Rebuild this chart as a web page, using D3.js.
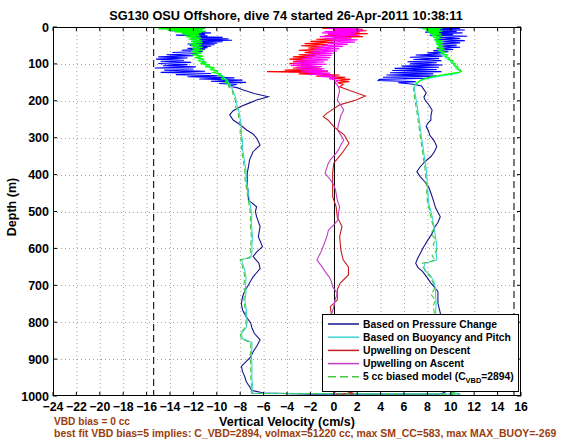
<!DOCTYPE html>
<html><head><meta charset="utf-8">
<script src="https://cdn.jsdelivr.net/npm/d3@7"></script>
<style>
body{margin:0;background:#fff}
svg{display:block;font-family:"Liberation Sans",Arial,Helvetica,sans-serif;font-weight:bold}
</style>
</head><body>
<svg id="c" width="561" height="442"></svg>
<script>
// ---------------- DATA ----------------
const titleText = "SG130 OSU Offshore, dive 74 started 26-Apr-2011 10:38:11";
const xLabel = "Vertical Velocity (cm/s)";
const yLabel = "Depth (m)";
const noteLines = ["VBD bias = 0 cc",
  "best fit VBD bias=5 implies: C_VBD=2894, volmax=51220 cc, max SM_CC=583, max MAX_BUOY=-269"];
const xTicks = d3.range(-24, 17, 2);
const yTicks = d3.range(0, 1001, 100);
const limitLines = [-15.4, 15.4];
const legendLabels = ["Based on Pressure Change", "Based on Buoyancy and Pitch",
  "Upwelling on Descent", "Upwelling on Ascent", "5 cc biased model (C"];

// [depth m, velocity cm/s]
const pressureDescent = [[0,-12],[2,-14.5],[4,-11],[6,-13.8],[8,-11.5],[10,-14],[12,-11],[14,-13],[16,-10.5],[18,-12.8],[20,-11],[22,-13.5],[24,-10.8],[26,-12],[28,-9.5],[30,-12.2],[32,-9],[34,-11.5],[36,-8.7],[38,-11.8],[40,-9.5],[42,-12],[44,-10],[46,-12.5],[48,-10.2],[50,-12.3],[52,-10.5],[54,-12],[56,-10.8],[58,-12.5],[60,-11],[63,-13],[66,-11.2],[69,-13.8],[72,-11.5],[75,-14.3],[78,-12],[81,-15],[84,-12.5],[87,-15.2],[90,-12.8],[93,-14.8],[96,-12.2],[99,-15],[102,-12.5],[105,-14.6],[108,-11.8],[111,-15.3],[114,-12],[117,-14.5],[120,-11],[123,-14.8],[126,-10.5],[129,-13.5],[132,-9.5],[135,-12.5],[138,-8.5],[141,-11.5],[144,-7.8],[147,-10.5],[150,-7.5],[153,-9.8],[156,-8.3],[160,-9.0],[165,-8.2],[170,-7.8],[180,-6.8],[189,-5.6],[198,-6.6],[207,-7.3],[216,-8.0],[227,-8.6],[238,-8.9],[252,-8.6],[265,-8.0],[279,-7.45],[290,-6.9],[301,-6.6],[320,-6.3],[338,-6.9],[360,-7.2],[380,-7.3],[396,-7.4],[427,-7.4],[450,-7.3],[469,-7.3],[487,-6.6],[500,-6.7],[514,-6.6],[541,-6.3],[568,-6.45],[595,-6.1],[610,-6.6],[622,-6.9],[640,-6.4],[655,-6.3],[677,-6.9],[699,-7.3],[715,-7.6],[731,-7.8],[750,-7.9],[767,-7.8],[785,-7.5],[802,-7.1],[815,-7.0],[830,-6.8],[848,-6.3],[866,-6.6],[880,-6.9],[894,-7.1],[907,-7.5],[920,-7.9],[934,-7.8],[948,-7.6],[960,-7.5],[975,-7.2],[985,-7.0],[992,-6.0],[995,-2]];
const pressureAscent = [[0,9.5],[2,7.2],[4,10.8],[6,8],[8,11.2],[10,8.5],[12,10.5],[14,7.8],[16,11],[18,8.8],[20,10.2],[22,8.2],[25,11.4],[28,9],[31,10.8],[34,8.6],[37,11.2],[40,9.2],[43,10.8],[46,8.8],[49,10.5],[52,9],[55,10.8],[58,8.8],[61,10.2],[64,8.5],[67,9.8],[70,8],[73,9.2],[76,7],[79,9.3],[82,6.5],[85,9],[88,6.8],[91,9.2],[94,6.3],[97,8.8],[100,6.5],[103,9.3],[106,5.8],[109,9],[112,5.2],[115,8.8],[118,5],[121,9.2],[124,4.8],[127,8.5],[130,4.5],[133,8.8],[136,4.2],[139,8.2],[142,3.9],[145,3.8],[148,7],[151,5.5],[155,6.8],[160,7.5],[165,7.6],[179,7.9],[190,7.7],[198,7.8],[210,8.1],[225,8.4],[240,8.3],[252,8.3],[262,8.0],[270,7.9],[282,8.1],[293,8.2],[310,8.6],[324,8.8],[338,8.6],[351,8.3],[365,7.8],[378,7.4],[392,7.1],[406,7.4],[420,7.8],[433,8.1],[450,8.3],[469,8.5],[490,8.7],[514,9.1],[530,8.9],[541,8.65],[560,8.4],[577,8.05],[595,7.7],[613,7.4],[628,7.15],[640,7.0],[652,7.2],[663,7.6],[680,8.0],[694,8.3],[705,8.6],[717,8.9],[735,8.9],[748,8.9],[762,9.0],[775,9.1],[800,9.2],[830,9.3],[860,9.2],[890,9.4],[920,9.5],[950,9.4],[975,9.6],[990,9.5],[995,9]];

const buoyDescent = [[0,-13],[3,-12],[6,-13.5],[9,-11.8],[12,-13],[15,-11.8],[18,-12.6],[22,-11.7],[26,-12.3],[30,-11.6],[35,-12.1],[40,-11.6],[45,-12],[50,-11.6],[55,-11.9],[60,-11.5],[65,-11.9],[70,-11.4],[75,-11.8],[80,-11.3],[85,-11.6],[90,-11.1],[95,-11.3],[100,-10.9],[105,-10.9],[110,-10.4],[115,-10.4],[120,-10.0],[125,-9.9],[130,-9.6],[135,-9.5],[140,-9.3],[145,-9.1],[150,-9.0],[160,-8.8],[175,-8.6],[190,-8.4],[210,-8.3],[230,-8.1],[250,-8.0],[270,-7.9],[290,-7.9],[310,-7.8],[330,-7.8],[350,-7.7],[370,-7.6],[390,-7.5],[410,-7.5],[430,-7.4],[450,-7.3],[470,-7.2],[490,-7.1],[510,-7.0],[530,-7.05],[550,-7.0],[570,-6.95],[590,-7.0],[610,-7.0],[625,-7.1],[631,-7.9],[640,-7.8],[660,-7.6],[680,-7.5],[700,-7.55],[720,-7.5],[740,-7.6],[760,-7.5],[780,-7.45],[800,-7.4],[815,-7.5],[830,-7.9],[845,-7.8],[855,-7.0],[870,-7.0],[890,-7.05],[910,-7.0],[930,-7.0],[950,-7.0],[970,-6.95],[985,-7.0],[993,-6.9]];
const buoyAscent = [[0,8.5],[5,7.8],[10,9],[15,8.2],[20,8.8],[25,8.4],[30,9],[35,8.6],[40,9.2],[45,8.8],[50,9.2],[55,8.9],[60,9.3],[65,9],[70,9.4],[75,9.3],[80,9.6],[85,9.6],[90,9.9],[95,10],[100,10.2],[105,10.3],[110,10.4],[115,10.6],[120,10.8],[124,10.7],[128,10.2],[132,9.4],[136,8.6],[140,7.9],[145,7.4],[150,7.2],[155,7.0],[162,6.9],[170,6.9],[190,7.0],[210,7.1],[230,7.2],[252,7.3],[275,7.4],[300,7.5],[320,7.6],[343,7.7],[365,7.8],[384,7.9],[405,7.95],[427,8.0],[450,8.05],[476,8.1],[500,8.3],[514,8.4],[530,8.5],[550,8.6],[570,8.7],[590,8.8],[610,8.75],[631,8.8],[640,7.8],[650,7.7],[660,7.8],[675,8.3],[694,8.6],[710,8.7],[730,8.7],[750,8.75],[775,8.7],[800,8.8],[830,8.9],[860,9.0],[890,9.1],[920,9.2],[950,9.3],[975,9.4],[990,10],[995,10.8]];

const upDescent = [[0,16],[0.3,-3.5],[2,1],[4,-1],[6,2.5],[8,0],[10,2.8],[12,0.5],[14,2.2],[16,-0.5],[18,2.9],[20,0.3],[22,2],[24,-0.8],[26,2.5],[28,0],[30,1.5],[33,-1.5],[36,0.8],[39,-2],[42,0],[45,-2.5],[48,-0.5],[51,-2.8],[54,-0.8],[57,-2.2],[60,-1],[63,-3],[66,-1.2],[69,-2.5],[72,-1],[75,-3],[78,-1.5],[81,-3.5],[84,-1.8],[87,-3.8],[90,-2],[93,-3.5],[96,-1.5],[99,-3.8],[102,-1.8],[105,-3.2],[108,-1.2],[111,-3.5],[114,-1],[117,-4.2],[120,-0.5],[121,-5.7],[124,-1],[127,-3],[130,0.5],[133,-1.5],[136,1],[139,0],[142,1.4],[145,0.2],[148,1.3],[151,0.3],[155,0.8],[162,0.5],[175,1.6],[187,2.7],[198,1.9],[211,0.5],[234,-0.6],[243,-0.9],[252,-0.5],[270,0],[293,0.9],[315,1.3],[342,0.7],[369,0],[396,-0.1],[433,-0.1],[460,-0.1],[487,0.2],[515,0.3],[541,0.7],[568,0.5],[604,0.6],[631,0.8],[650,1.25],[672,1.25],[694,0.55],[712,0.3],[740,0.3],[758,-0.3],[780,-0.2],[810,0.1],[840,0.3],[870,0.2],[900,0.4],[930,0.3],[960,0.5],[985,0.8],[993,1.7],[995,0.2]];
const upAscent = [[0,0.5],[2,2],[4,-0.5],[6,2.3],[8,0],[10,2.5],[12,-0.8],[14,2],[16,-1],[18,1.8],[20,-0.5],[23,2.2],[26,-1.2],[29,1.5],[32,-0.8],[35,2],[38,-0.3],[41,1.8],[44,-0.5],[47,1.2],[50,-1],[53,0.8],[56,-1.5],[59,0.5],[62,-1.8],[65,0.3],[68,-2],[71,0],[74,-2.2],[77,-0.2],[80,-2.5],[83,-0.3],[86,-2.8],[89,-0.5],[92,-3.2],[95,-0.8],[98,-3.5],[101,-0.6],[104,-3.7],[107,-1],[110,-3.2],[113,-0.8],[116,-3],[119,-0.5],[122,-2.8],[125,-0.3],[128,-2.2],[131,0],[134,-1.2],[137,0.3],[140,-0.4],[145,0.4],[150,0.1],[162,0.4],[172,0.5],[185,0.4],[198,0.3],[212,0.6],[225,0.85],[240,0.6],[252,0.5],[265,0.4],[279,0.3],[293,0.6],[306,0.85],[320,0.6],[333,0.4],[346,0.1],[360,-0.3],[372,-0.5],[382,-0.6],[396,-0.75],[414,-0.3],[428,0],[442,0.15],[469,0.3],[487,0.5],[505,0.4],[523,0.35],[536,0],[550,-0.45],[568,-0.6],[586,-0.8],[610,-1.1],[631,-1.45],[650,-1.0],[665,-0.7],[677,-0.4],[690,-0.2],[704,-0.1],[722,0.3],[740,0.1],[758,0],[780,-0.2],[810,0],[840,0.2],[870,0],[900,-0.1],[930,0.1],[960,0],[985,0.2],[995,0]];

const modelDescent = [[0,-24],[1,-15.5],[3,-11],[5,-15],[7,-11.2],[9,-14.2],[11,-10.9],[13,-13.6],[15,-11.3],[17,-13],[19,-11.5],[21,-12.8],[24,-11.4],[27,-12.6],[30,-11.3],[33,-12.4],[36,-11.3],[39,-12.2],[42,-11.2],[45,-12.3],[48,-11.3],[51,-12.2],[55,-11.2],[59,-12.1],[63,-11.2],[67,-12.2],[71,-11.3],[75,-12.1],[79,-11.2],[83,-11.9],[87,-11.1],[91,-11.6],[95,-10.9],[99,-11.4],[103,-10.6],[107,-11],[111,-10.2],[115,-10.6],[119,-9.9],[123,-10.3],[127,-9.7],[131,-9.9],[135,-9.4],[140,-9.6],[145,-9.1],[150,-9.3],[155,-8.9],[162,-9.0],[170,-8.7],[185,-8.6],[200,-8.4],[215,-8.4],[230,-8.2],[250,-8.1],[270,-8.0],[290,-8.0],[310,-7.9],[330,-7.9],[350,-7.8],[370,-7.7],[390,-7.6],[410,-7.6],[430,-7.5],[450,-7.4],[470,-7.3],[490,-7.2],[510,-7.1],[530,-7.15],[550,-7.1],[570,-7.05],[590,-7.1],[610,-7.1],[625,-7.2],[631,-8.0],[640,-7.9],[660,-7.7],[680,-7.6],[700,-7.7],[720,-7.6],[740,-7.7],[760,-7.6],[780,-7.55],[800,-7.5],[815,-7.6],[830,-8.0],[845,-7.9],[855,-7.1],[870,-7.1],[890,-7.15],[910,-7.1],[930,-7.1],[950,-7.1],[970,-7.05],[985,-7.1],[993,-7.0]];
const modelAscent = [[0,8],[1,7.4],[3,9.3],[5,7.6],[7,9.1],[9,7.9],[11,9.3],[13,8],[15,9],[17,8.2],[19,9.2],[22,8.4],[25,9.3],[28,8.5],[31,9.2],[34,8.6],[37,9.3],[40,8.7],[44,9.3],[48,8.8],[52,9.3],[56,8.9],[60,9.4],[64,9],[68,9.5],[72,9.2],[76,9.7],[80,9.5],[84,9.9],[88,9.8],[92,10.2],[96,10.1],[100,10.4],[104,10.3],[108,10.6],[112,10.5],[116,10.8],[120,10.9],[123,10.7],[126,10.1],[130,9.3],[134,8.6],[138,8.0],[142,7.6],[147,7.3],[152,7.1],[158,6.9],[170,6.8],[190,6.9],[210,7.0],[230,7.1],[252,7.2],[275,7.3],[300,7.4],[320,7.5],[343,7.6],[365,7.7],[384,7.8],[405,7.85],[427,7.9],[450,7.95],[476,8.0],[500,8.2],[514,8.3],[530,8.4],[545,8.6],[560,8.3],[575,8.7],[590,8.5],[605,8.8],[620,8.4],[632,8.7],[640,7.6],[650,7.6],[662,7.9],[675,8.2],[694,8.5],[710,8.6],[725,8.3],[740,8.7],[755,8.5],[775,8.6],[800,8.7],[830,8.8],[860,8.9],[890,9.0],[920,9.1],[950,9.2],[975,9.3],[990,10],[995,10.8]];

// ---------------- CHART ----------------
const svg = d3.select("#c");
const x = d3.scaleLinear().domain([-24, 16]).range([53, 521]);
const y = d3.scaleLinear().domain([0, 1000]).range([27, 396]);
const defs = svg.append("defs");
defs.append("clipPath").attr("id","plotclip").append("rect")
  .attr("x", x(-24)).attr("y", y(0)).attr("width", x(16)-x(-24)).attr("height", y(1000)-y(0));

// scale a text's font so its width matches the reference layout
function fit(sel, target){
  const w = sel.node().getComputedTextLength();
  if (w > 0) sel.attr("font-size", (+sel.attr("font-size")) * target / w);
  return +sel.attr("font-size");
}

const colors = {
  pressure:["#0000ff","#14148c"], buoy:["#33e0e0","#3fd4d4"],
  upD:["#ff0000","#c41e1e"], upA:["#ff00ff","#c43cc8"], model:["#00ff00","#40c840"]
};
function grad(id, c){
  const g = defs.append("linearGradient").attr("id", id).attr("gradientUnits","userSpaceOnUse")
    .attr("x1",0).attr("x2",0).attr("y1", y(0)).attr("y2", y(1000));
  g.append("stop").attr("offset", 0.155).attr("stop-color", c[0]);
  g.append("stop").attr("offset", 0.17).attr("stop-color", c[1]);
}
grad("gP", colors.pressure); grad("gB", colors.buoy); grad("gR", colors.upD); grad("gM", colors.upA);

// grid
const grid = svg.append("g").attr("stroke","#8a8a8a").attr("stroke-width",0.8).attr("stroke-dasharray","1,3");
grid.selectAll(".vx").data(xTicks.slice(1,-1)).join("line")
  .attr("x1", d=>x(d)+0.5).attr("x2", d=>x(d)+0.5).attr("y1", y(0)).attr("y2", y(1000));
grid.selectAll(".hy").data(yTicks.slice(1,-1)).join("line")
  .attr("y1", d=>Math.round(y(d))+0.5).attr("y2", d=>Math.round(y(d))+0.5).attr("x1", x(-24)).attr("x2", x(16));

// reference lines
svg.append("line").attr("x1", Math.round(x(0))+0.5).attr("x2", Math.round(x(0))+0.5)
  .attr("y1", y(0)).attr("y2", y(1000)).attr("stroke","#000").attr("stroke-width",1);
svg.selectAll(".lim").data(limitLines).join("line")
  .attr("x1", d=>x(d)).attr("x2", d=>x(d)).attr("y1", y(0)).attr("y2", y(1000))
  .attr("stroke","#222").attr("stroke-width",1.2).attr("stroke-dasharray","7,4");

const line = d3.line().x(d=>x(d[1])).y(d=>y(d[0]));
const plot = svg.append("g").attr("clip-path","url(#plotclip)").attr("fill","none").attr("stroke-width",1.1);
const full = (desc, asc) => desc.concat(asc.slice().reverse());

plot.append("path").attr("d", line(full(pressureDescent, pressureAscent))).attr("stroke","url(#gP)");
plot.append("path").attr("d", line(full(buoyDescent, buoyAscent))).attr("stroke","url(#gB)");
plot.append("path").attr("d", line(upDescent)).attr("stroke","url(#gR)");
plot.append("path").attr("d", line(upAscent)).attr("stroke","url(#gM)");
const split = 162;
plot.append("path").attr("d", line(modelDescent.filter(d=>d[0]<=split))).attr("stroke",colors.model[0]).attr("stroke-width",1.3);
plot.append("path").attr("d", line(modelAscent.filter(d=>d[0]<=split))).attr("stroke",colors.model[0]).attr("stroke-width",1.3);
plot.append("path").attr("d", line(full(modelDescent.filter(d=>d[0]>=split-8), modelAscent.filter(d=>d[0]>=split-8))))
  .attr("stroke",colors.model[1]).attr("stroke-dasharray","5,3");

// axes box & ticks
const ax = svg.append("g").attr("stroke","#000").attr("stroke-width",1);
ax.append("rect").attr("x", x(-24)+0.5).attr("y", y(0)+0.5).attr("width", x(16)-x(-24)-1).attr("height", y(1000)-y(0)-1).attr("fill","none");
ax.selectAll(".tb").data(xTicks).join("line").attr("x1",d=>x(d)).attr("x2",d=>x(d)).attr("y1",y(1000)).attr("y2",y(1000)-4);
ax.selectAll(".tt").data(xTicks).join("line").attr("x1",d=>x(d)).attr("x2",d=>x(d)).attr("y1",y(0)).attr("y2",y(0)+4);
ax.selectAll(".tl").data(yTicks).join("line").attr("y1",d=>y(d)).attr("y2",d=>y(d)).attr("x1",x(-24)).attr("x2",x(-24)+4);
ax.selectAll(".tr").data(yTicks).join("line").attr("y1",d=>y(d)).attr("y2",d=>y(d)).attr("x1",x(16)).attr("x2",x(16)-4);

const fmt = d3.format("d");
svg.append("g").attr("font-size",12.3).attr("text-anchor","middle").selectAll("text").data(xTicks).join("text")
  .attr("x", d=>x(d)).attr("y", 411).text(d=>fmt(d));
svg.append("g").attr("font-size",12.5).attr("text-anchor","end").selectAll("text").data(yTicks).join("text")
  .attr("x", 49).attr("y", d=>y(d)+4.5).text(d=>d);

fit(svg.append("text").attr("x", 286).attr("y", 19.5).attr("text-anchor","middle").attr("font-size",12).text(titleText), 354);
fit(svg.append("text").attr("x", 287).attr("y", 425.5).attr("text-anchor","middle").attr("font-size",12).text(xLabel), 136);
svg.append("text").attr("transform","translate(16,207) rotate(-90)").attr("text-anchor","middle").attr("font-size",12.5).text(yLabel);
const notes = svg.append("g").attr("fill","#9a3d0c");
fit(notes.append("text").attr("x",54).attr("y",425).attr("font-size",10).text(noteLines[0]), 76);
fit(notes.append("text").attr("x",54).attr("y",437).attr("font-size",10).text(noteLines[1]), 503);

// legend
const lg = svg.append("g");
lg.append("rect").attr("x",322.5).attr("y",314.5).attr("width",196).attr("height",77).attr("fill","#fff").attr("stroke","#000");
const lgStyles = [[colors.pressure[1],null],[colors.buoy[1],null],[colors.upD[1],null],[colors.upA[1],null],[colors.model[1],"8,4"]];
const probe = lg.append("text").attr("font-size",10).text(legendLabels[1]);
const lgFont = fit(probe, 148);
probe.remove();
lgStyles.forEach((s,i)=>{
  const cy = 324 + i*13.2;
  lg.append("line").attr("x1",328).attr("x2",359).attr("y1",cy).attr("y2",cy)
    .attr("stroke",s[0]).attr("stroke-width",1.5).attr("stroke-dasharray",s[1]);
  const t = lg.append("text").attr("x",363).attr("y",cy+3.6).attr("font-size",lgFont).text(legendLabels[i]);
  if(i===4){
    t.append("tspan").attr("font-size",lgFont*0.72).attr("dy",3).text("VBD");
    t.append("tspan").attr("dy",-3).text("=2894)");
  }
});
</script>
</body></html>
